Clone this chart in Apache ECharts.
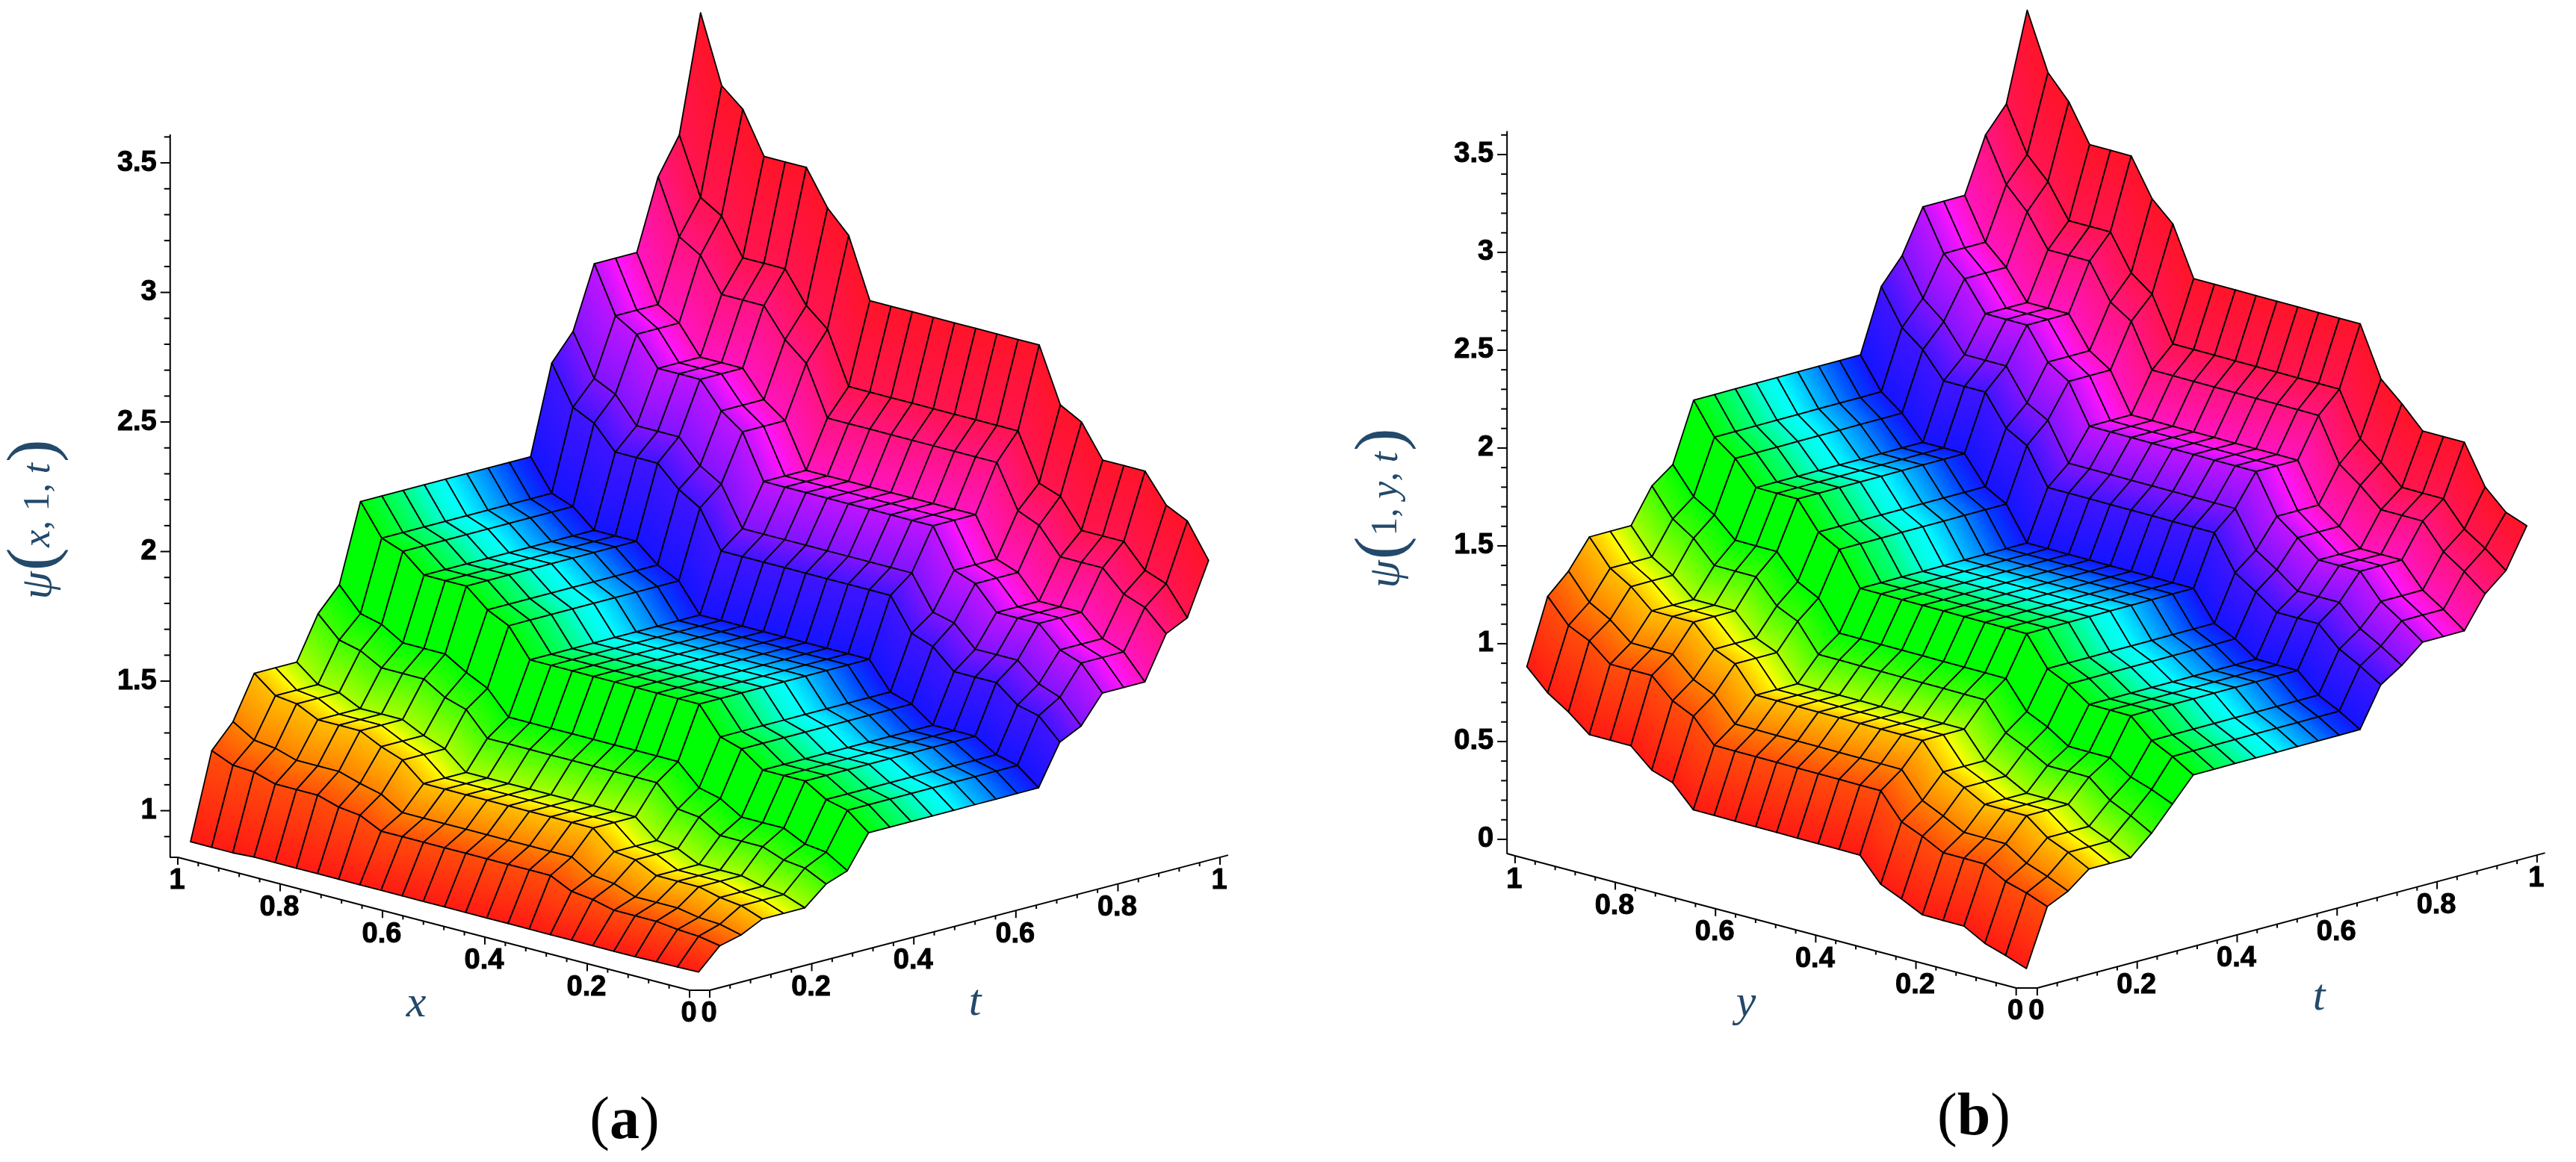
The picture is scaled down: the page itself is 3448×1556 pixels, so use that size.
<!DOCTYPE html>
<html><head><meta charset="utf-8">
<style>html,body{margin:0;padding:0;background:#fff}#c{width:3448px;height:1556px}</style>
<script src="https://cdn.jsdelivr.net/npm/echarts@6/dist/echarts.min.js"></script>
</head><body><div id="c"></div>
<script>
// Mesh: 25 x 25 samples. Index 0 of the rows is x (or y) = 1, index 0 of a row is t = 0.
const meshSpace = [1,.9583,.9167,.875,.8333,.7917,.75,.7083,.6667,.625,.5833,.5417,.5,.4583,.4167,.375,.3333,.2917,.25,.2083,.1667,.125,.0833,.0417,0];
const meshTime  = [0,.0417,.0833,.125,.1667,.2083,.25,.2917,.3333,.375,.4167,.4583,.5,.5417,.5833,.625,.6667,.7083,.75,.7917,.8333,.875,.9167,.9583,1];
// The surfaces are staircases: each mesh line belongs to one of 13 read levels.
const levelOfIndex = [0,1,2,3,3,3,4,5,6,6,6,6,6,6,6,6,6,7,8,9,9,9,10,11,12];
// Colour read at each mesh line of t.
const timeColors = ['#ff1a14','#ff4d0a','#ff8000','#ffbf00','#ffff00','#aaff00','#40ff00','#00ff00','#00ff08','#00ff40','#00ff80','#00ffd5','#00ffff','#00bfff','#0080ff','#0040ff','#1414ff','#4014ff','#8014ff','#bf14ff','#ff14ff','#ff14bf','#ff1480','#ff1450','#ff1428'];

// Panel (a) psi(x,1,t) levels
const a0  = [.88,1.21,1.30,1.465,1.63,1.72,2.02,2.36,2.46,2.70,2.97,3.11,3.56];
const a1  = [.88,1.175,1.25,1.40,1.55,1.63,1.90,2.21,2.30,2.52,2.76,2.89,3.30];
const a2  = [.88,1.17,1.24,1.39,1.53,1.61,1.87,2.17,2.26,2.47,2.71,2.84,3.23];
const a3  = [.885,1.145,1.215,1.35,1.485,1.56,1.80,2.08,2.16,2.36,2.58,2.70,3.07];
const a4  = [.885,1.12,1.19,1.31,1.435,1.51,1.73,2.0,2.07,2.26,2.47,2.58,2.935];
const a5  = [.885,1.11,1.17,1.28,1.41,1.47,1.69,1.95,2.02,2.20,2.40,2.51,2.85];
const a6  = [.885,1.07,1.12,1.21,1.32,1.38,1.58,1.805,1.87,2.03,2.21,2.31,2.62];
const a7  = [.885,1.03,1.07,1.14,1.24,1.30,1.475,1.68,1.74,1.88,2.045,2.13,2.41];
const a8  = [.885,1.02,1.06,1.13,1.23,1.28,1.45,1.65,1.72,1.85,2.01,2.10,2.365];
const a9  = [.885,1.0,1.03,1.09,1.18,1.23,1.39,1.575,1.64,1.76,1.91,1.99,2.24];
const a10 = [.887,.99,1.015,1.07,1.15,1.19,1.34,1.51,1.57,1.68,1.83,1.90,2.13];
const a11 = [.888,.985,1.01,1.06,1.14,1.18,1.32,1.49,1.54,1.65,1.80,1.87,2.09];
const a12 = [.89,.97,.99,1.03,1.10,1.13,1.255,1.41,1.45,1.556,1.72,1.76,1.96];
const levelsA = [a0,a1,a2,a3,a4,a5,a6,a7,a8,a9,a10,a11,a12];

// Panel (b) psi(1,y,t) levels
const b0  = [.89,1.22,1.32,1.466,1.64,1.72,2.02,2.34,2.47,2.69,2.97,3.10,3.55];
const b1  = [.785,1.10,1.19,1.335,1.50,1.585,1.86,2.16,2.28,2.48,2.745,2.87,3.26];
const b2  = [.716,1.05,1.13,1.27,1.43,1.52,1.78,2.075,2.19,2.38,2.635,2.76,3.14];
const b3  = [.63,.96,1.04,1.175,1.32,1.42,1.66,1.945,2.05,2.23,2.47,2.59,2.95];
const b4  = [.535,.86,.94,1.066,1.20,1.295,1.52,1.79,1.89,2.07,2.29,2.41,2.76];
const b5  = [.50,.81,.89,1.02,1.15,1.24,1.46,1.73,1.83,2.0,2.22,2.33,2.66];
const b6  = [.39,.69,.77,.889,1.01,1.09,1.29,1.545,1.64,1.80,2.0,2.105,2.41];
const b7  = [.27,.56,.64,.757,.87,.95,1.14,1.37,1.456,1.60,1.78,1.88,2.157];
const b8  = [.224,.515,.59,.707,.82,.90,1.09,1.30,1.385,1.52,1.70,1.79,2.06];
const b9  = [.172,.46,.535,.649,.76,.83,1.015,1.225,1.305,1.435,1.605,1.69,1.95];
const b10 = [.113,.40,.465,.566,.67,.76,.918,1.124,1.20,1.31,1.477,1.564,1.75];
const b11 = [.08,.37,.426,.52,.62,.725,.865,1.067,1.14,1.24,1.405,1.494,1.65];
const b12 = [.042,.33,.38,.464,.56,.68,.80,1.0,1.07,1.16,1.32,1.41,1.61];
const levelsB = [b0,b1,b2,b3,b4,b5,b6,b7,b8,b9,b10,b11,b12];

// Ticks
const spaceTicks = [0,.04,.08,.12,.16,.2,.24,.28,.32,.36,.4,.44,.48,.52,.56,.6,.64,.68,.72,.76,.8,.84,.88,.92,.96,1];
const spaceLabels = [0,.2,.4,.6,.8,1];
const zTicksA = [.9,1,1.1,1.2,1.3,1.4,1.5,1.6,1.7,1.8,1.9,2,2.1,2.2,2.3,2.4,2.5,2.6,2.7,2.8,2.9,3,3.1,3.2,3.3,3.4,3.5,3.6];
const zLabelsA = [1,1.5,2,2.5,3,3.5];
const zTicksB = [0,.1,.2,.3,.4,.5,.6,.7,.8,.9,1,1.1,1.2,1.3,1.4,1.5,1.6,1.7,1.8,1.9,2,2.1,2.2,2.3,2.4,2.5,2.6,2.7,2.8,2.9,3,3.1,3.2,3.3,3.4,3.5,3.6];
const zLabelsB = [0,.5,1,1.5,2,2.5,3,3.5];

// View of each panel: u = ct*t - s, v = z - zBase + ks*s + kt*t
const viewA = {ct:1.004, ks:.513, kt:.519, zBase:.82, zTop:3.61, zBottom:.82,
  sAxis:{s:1.0074,t:-.0176,dz:.0091,zs:-.0038}, tAxis:{t0:.0219,ts:1.0005,dz:-.0114,zs:-.0062}, zAxis:{s:1.02,t:-.02,dz:0}};
const viewB = {ct:1.0015, ks:.695, kt:.695, zBase:-.065, zTop:3.62, zBottom:-.073,
  sAxis:{s:1.003,t:-.0205,dz:.0219,zs:-.0219}, tAxis:{t0:.0216,ts:.9989,dz:-.0074,zs:-.0148}, zAxis:{s:1.02,t:-.0196,dz:.007}};

const project = (w,s,t,z)=>[w.ct*t-s, z-w.zBase+w.ks*s+w.kt*t];

function surfaceSeries(levels,w,idx){
  const data=[];
  for(let i=0;i<24;i++) for(let j=23;j>=0;j--){
    const r0=levels[levelOfIndex[i]], r1=levels[levelOfIndex[i+1]];
    data.push([meshSpace[i],meshSpace[i+1],meshTime[j],meshTime[j+1],r0[levelOfIndex[j]],r0[levelOfIndex[j+1]],r1[levelOfIndex[j]],r1[levelOfIndex[j+1]],j]);
  }
  return {type:'custom',xAxisIndex:idx,yAxisIndex:idx,clip:false,silent:true,data,z:2,
    renderItem(p,api){
      const s0=api.value(0),s1=api.value(1),t0=api.value(2),t1=api.value(3),j=api.value(8);
      const P=(s,t,z)=>api.coord(project(w,s,t,z));
      const A=P(s0,t0,api.value(4)),B=P(s0,t1,api.value(5)),C=P(s1,t1,api.value(7)),D=P(s1,t0,api.value(6));
      const ex=(D[0]-A[0]+C[0]-B[0])/2, ey=(D[1]-A[1]+C[1]-B[1])/2, el=Math.hypot(ex,ey)||1;
      const nx=-ey/el, ny=ex/el;
      const ax=(A[0]+D[0])/2, ay=(A[1]+D[1])/2, bx=(B[0]+C[0])/2, by=(B[1]+C[1])/2;
      let L=(bx-ax)*nx+(by-ay)*ny; if(Math.abs(L)<1){L=1;}
      const fill=new echarts.graphic.LinearGradient(ax,ay,ax+nx*L,ay+ny*L,[{offset:0,color:timeColors[j]},{offset:1,color:timeColors[j+1]}],true);
      return {type:'polygon',shape:{points:[A,B,C,D]},style:{fill,stroke:'#000',lineWidth:1.8,lineJoin:'round'}};
    }};
}
const sPoint=(w,v)=>[w.sAxis.s*v,w.sAxis.t,w.zBase+w.sAxis.dz+w.sAxis.zs*v];
const tPoint=(w,v)=>[0,w.tAxis.t0+w.tAxis.ts*v,w.zBase+w.tAxis.dz+w.tAxis.zs*v];
const zPoint=(w,v)=>[w.zAxis.s,w.zAxis.t,v+w.zAxis.dz];

function tickSeries(ticks,labels,pointOf,w,idx,vertical){
  return {type:'custom',xAxisIndex:idx,yAxisIndex:idx,clip:false,silent:true,z:3,data:ticks.map(v=>[v]),
    renderItem(p,api){
      const v=api.value(0), q=pointOf(w,v), c=api.coord(project(w,q[0],q[1],q[2]));
      const major=labels.some(l=>Math.abs(l-v)<1e-6), len=vertical?(major?10:5):(major?13:8);
      const children=[{type:'line',shape:vertical?{x1:c[0],y1:c[1],x2:c[0],y2:c[1]+len}:{x1:c[0],y1:c[1],x2:c[0]-len,y2:c[1]},style:{stroke:'#000',lineWidth:2}}];
      if(major) children.push({type:'text',style:{text:String(v),x:vertical?c[0]-1:c[0]-18,y:vertical?c[1]+32:c[1],
        align:vertical?'center':'right',verticalAlign:'middle',fontFamily:'Liberation Sans',fontWeight:'bold',fontSize:38,fill:'#000',stroke:'#000',lineWidth:1}});
      return {type:'group',children};
    }};
}
function frameSeries(w,idx){
  const pts=[zPoint(w,w.zTop),zPoint(w,w.zBottom),sPoint(w,1),sPoint(w,0),tPoint(w,0),tPoint(w,1.016)].map(q=>project(w,q[0],q[1],q[2]));
  return {type:'line',xAxisIndex:idx,yAxisIndex:idx,data:pts,symbol:'none',silent:true,clip:false,z:1,lineStyle:{color:'#000',width:2}};
}
const hiddenAxis=(gridIndex,min,max)=>({type:'value',gridIndex,min,max,show:false,scale:true});

const serif='Liberation Serif', ink='#23496b';
const psiRich={g:{fontFamily:serif,fontStyle:'italic',fontSize:60,fill:ink},p:{fontFamily:serif,fontSize:92,fill:ink,padding:[0,1,8,1]},
  v:{fontFamily:serif,fontStyle:'italic',fontSize:52,fill:ink},n:{fontFamily:serif,fontSize:50,fill:ink}};
const axisName=(text,x,y)=>({type:'text',x,y,style:{text,fontFamily:serif,fontStyle:'italic',fontSize:60,fill:ink,align:'center',verticalAlign:'middle'}});
const caption=(letter,x,y)=>({type:'text',x,y,style:{text:'{p|(}{b|'+letter+'}{p|)}',align:'center',verticalAlign:'middle',
  rich:{p:{fontFamily:serif,fontSize:80,fill:'#000'},b:{fontFamily:serif,fontSize:80,fontWeight:'bold',fill:'#000'}}}});
const psiLabel=(text,x,y)=>({type:'text',x,y,rotation:Math.PI/2,style:{text,align:'center',verticalAlign:'middle',rich:psiRich}});

const chart=echarts.init(document.getElementById('c'),null,{renderer:'canvas',width:3448,height:1556});
chart.setOption({
  animation:false,backgroundColor:'#fff',
  grid:[{left:119,top:7.4,width:1632,height:1492.1},{left:1976.8,top:7.1,width:1500.4,height:1490.8}],
  xAxis:[hiddenAxis(0,-1.2,1.2),hiddenAxis(1,-1.1,1.1)],
  yAxis:[hiddenAxis(0,-.5,3.8),hiddenAxis(1,-.66,5.03)],
  series:[
    frameSeries(viewA,0),frameSeries(viewB,1),
    surfaceSeries(levelsA,viewA,0),surfaceSeries(levelsB,viewB,1),
    tickSeries(spaceTicks,spaceLabels,sPoint,viewA,0,true),tickSeries(spaceTicks,spaceLabels,tPoint,viewA,0,true),tickSeries(zTicksA,zLabelsA,zPoint,viewA,0,false),
    tickSeries(spaceTicks,spaceLabels,sPoint,viewB,1,true),tickSeries(spaceTicks,spaceLabels,tPoint,viewB,1,true),tickSeries(zTicksB,zLabelsB,zPoint,viewB,1,false)
  ],
  graphic:[
    psiLabel('{g|ψ}{p|(}{v|x}{n|, 1, }{v|t}{p|)}',52,695),
    psiLabel('{g|ψ}{p|(}{n|1, }{v|y}{n|, }{v|t}{p|)}',1856,680),
    axisName('x',557,1345),axisName('t',1305,1343),axisName('y',2337,1344),axisName('t',3104,1336),
    caption('a',836,1503),caption('b',2642,1498)
  ]
});
</script></body></html>
